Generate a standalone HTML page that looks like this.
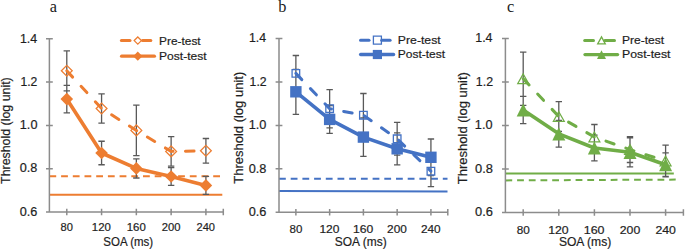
<!DOCTYPE html>
<html><head><meta charset="utf-8"><style>
html,body{margin:0;padding:0;background:#fff;}
body{width:685px;height:250px;overflow:hidden;}
svg{display:block;}
.t{font-family:"Liberation Sans",sans-serif;fill:#1e1e1e;stroke:#1e1e1e;stroke-width:0.2px;}
.t2{font-family:"Liberation Sans",sans-serif;font-size:12px;fill:#1e1e1e;}
.lab{font-family:"Liberation Serif",serif;fill:#1a1a1a;}
</style></head><body>
<svg width="685" height="250" viewBox="0 0 685 250">
<rect width="685" height="250" fill="#fff"/>
<g><line x1="49.4" y1="194.8" x2="222.3" y2="194.8" stroke="#ED7D31" stroke-width="2"/>
<line x1="49.4" y1="176.2" x2="222.3" y2="176.2" stroke="#ED7D31" stroke-width="2" stroke-dasharray="6.8 4.9"/>
<path d="M49.4 38.8V212M46 212H223.3M46 38.8H52.8M46 82.1H52.8M46 125.4H52.8M46 168.7H52.8M46 212H52.8M223.3 208.8V215.2M66.79 208.8V215.2M101.57 208.8V215.2M136.35 208.8V215.2M171.13 208.8V215.2M205.91 208.8V215.2" stroke="#8c8c8c" stroke-width="1.5" fill="none"/>
<path d="M66.79 50.8V90.8M63.59 50.8H69.99M63.59 90.8H69.99M101.57 93.8V123.2M98.37 93.8H104.77M98.37 123.2H104.77M136.35 105.2V155.6M133.15 105.2H139.55M133.15 155.6H139.55M171.13 136.6V166.2M167.93 136.6H174.33M167.93 166.2H174.33M205.91 138.5V163.1M202.71 138.5H209.11M202.71 163.1H209.11M66.79 85.4V112.8M63.59 85.4H69.99M63.59 112.8H69.99M101.57 141.25V164.75M98.37 141.25H104.77M98.37 164.75H104.77M136.35 158.8V178M133.15 158.8H139.55M133.15 178H139.55M171.13 167.7V185.3M167.93 167.7H174.33M167.93 185.3H174.33M205.91 176.4V194.4M202.71 176.4H209.11M202.71 194.4H209.11" stroke="#595959" stroke-width="1.3" fill="none"/>
<polyline points="66.79,99.1 101.57,153 136.35,168.4 171.13,176.5 205.91,185.4" fill="none" stroke="#ED7D31" stroke-width="3.6" stroke-linejoin="round"/>
<polyline points="66.79,70.8 101.57,108.5 136.35,130.4 171.13,151.4 205.91,150.8" fill="none" stroke="#ED7D31" stroke-width="3" stroke-dasharray="8.6 12.45" stroke-linecap="round" stroke-linejoin="round"/>
<path d="M66.79 92.8L73.09 99.1L66.79 105.4L60.49 99.1Z" fill="#ED7D31"/>
<path d="M101.57 146.7L107.87 153L101.57 159.3L95.27 153Z" fill="#ED7D31"/>
<path d="M136.35 162.1L142.65 168.4L136.35 174.7L130.05 168.4Z" fill="#ED7D31"/>
<path d="M171.13 170.2L177.43 176.5L171.13 182.8L164.83 176.5Z" fill="#ED7D31"/>
<path d="M205.91 179.1L212.21 185.4L205.91 191.7L199.61 185.4Z" fill="#ED7D31"/>
<path d="M66.79 65.4L72.19 70.8L66.79 76.2L61.39 70.8Z" fill="none" stroke="#ED7D31" stroke-width="1.3"/>
<path d="M101.57 103.1L106.97 108.5L101.57 113.9L96.17 108.5Z" fill="none" stroke="#ED7D31" stroke-width="1.3"/>
<path d="M136.35 125L141.75 130.4L136.35 135.8L130.95 130.4Z" fill="none" stroke="#ED7D31" stroke-width="1.3"/>
<path d="M171.13 146L176.53 151.4L171.13 156.8L165.73 151.4Z" fill="none" stroke="#ED7D31" stroke-width="1.3"/>
<path d="M205.91 145.4L211.31 150.8L205.91 156.2L200.51 150.8Z" fill="none" stroke="#ED7D31" stroke-width="1.3"/>
<path d="M137.8 37L141.4 40.6L137.8 44.2L134.2 40.6Z" fill="#fff" stroke="#ED7D31" stroke-width="1.3"/>
<line x1="121.4" y1="40.6" x2="130" y2="40.6" stroke="#ED7D31" stroke-width="3" stroke-linecap="round"/>
<line x1="142.5" y1="40.6" x2="150.8" y2="40.6" stroke="#ED7D31" stroke-width="3" stroke-linecap="round"/>
<line x1="121.6" y1="56.2" x2="154.4" y2="56.2" stroke="#ED7D31" stroke-width="3.3" stroke-linecap="round"/>
<path d="M137.8 51.6L142.4 56.2L137.8 60.8L133.2 56.2Z" fill="#ED7D31"/></g>
<g><line x1="279" y1="191.1" x2="447.5" y2="191.6" stroke="#4472C4" stroke-width="2"/>
<line x1="279" y1="178.7" x2="447.5" y2="178.7" stroke="#4472C4" stroke-width="2" stroke-dasharray="6.8 4.9"/>
<path d="M279 38.45V212.3M275.6 212.3H447.8M275.6 38.45H282.4M275.6 81.91H282.4M275.6 125.38H282.4M275.6 168.84H282.4M275.6 212.3H282.4M447.8 209.1V215.5M295.88 209.1V215.5M329.64 209.1V215.5M363.4 209.1V215.5M397.16 209.1V215.5M430.92 209.1V215.5" stroke="#8c8c8c" stroke-width="1.5" fill="none"/>
<path d="M295.88 55.5V91.3M292.68 55.5H299.08M292.68 91.3H299.08M329.64 89.6V127.8M326.44 89.6H332.84M326.44 127.8H332.84M363.4 93.5V136.9M360.2 93.5H366.6M360.2 136.9H366.6M397.16 122.4V155.2M393.96 122.4H400.36M393.96 155.2H400.36M430.92 155.8V186.6M427.72 155.8H434.12M427.72 186.6H434.12M295.88 69.3V114.3M292.68 69.3H299.08M292.68 114.3H299.08M329.64 105.5V133.3M326.44 105.5H332.84M326.44 133.3H332.84M363.4 117.8V156.4M360.2 117.8H366.6M360.2 156.4H366.6M397.16 132.8V164.8M393.96 132.8H400.36M393.96 164.8H400.36M430.92 139V175.6M427.72 139H434.12M427.72 175.6H434.12" stroke="#595959" stroke-width="1.3" fill="none"/>
<polyline points="295.88,91.8 329.64,119.4 363.4,137.1 397.16,148.8 430.92,157.3" fill="none" stroke="#4472C4" stroke-width="3.6" stroke-linejoin="round"/>
<polyline points="295.88,73.4 329.64,108.7 363.4,115.2 397.16,138.8 430.92,171.2" fill="none" stroke="#4472C4" stroke-width="3" stroke-dasharray="8.6 12.45" stroke-linecap="round" stroke-linejoin="round"/>
<path d="M290.18 86.1H301.58V97.5H290.18Z" fill="#4472C4"/>
<path d="M323.94 113.7H335.34V125.1H323.94Z" fill="#4472C4"/>
<path d="M357.7 131.4H369.1V142.8H357.7Z" fill="#4472C4"/>
<path d="M391.46 143.1H402.86V154.5H391.46Z" fill="#4472C4"/>
<path d="M425.22 151.6H436.62V163H425.22Z" fill="#4472C4"/>
<path d="M292.08 69.6H299.68V77.2H292.08Z" fill="none" stroke="#4472C4" stroke-width="1.3"/>
<path d="M325.84 104.9H333.44V112.5H325.84Z" fill="none" stroke="#4472C4" stroke-width="1.3"/>
<path d="M359.6 111.4H367.2V119H359.6Z" fill="none" stroke="#4472C4" stroke-width="1.3"/>
<path d="M393.36 135H400.96V142.6H393.36Z" fill="none" stroke="#4472C4" stroke-width="1.3"/>
<path d="M427.12 167.4H434.72V175H427.12Z" fill="none" stroke="#4472C4" stroke-width="1.3"/>
<path d="M373.4 36.2H381.4V44.2H373.4Z" fill="#fff" stroke="#4472C4" stroke-width="1.3"/>
<line x1="360.5" y1="40.2" x2="369" y2="40.2" stroke="#4472C4" stroke-width="3" stroke-linecap="round"/>
<line x1="381.7" y1="40.2" x2="390.1" y2="40.2" stroke="#4472C4" stroke-width="3" stroke-linecap="round"/>
<line x1="360.6" y1="54.5" x2="393.6" y2="54.5" stroke="#4472C4" stroke-width="3.3" stroke-linecap="round"/>
<path d="M372.8 49.9H382V59.1H372.8Z" fill="#4472C4"/></g>
<g><line x1="505.4" y1="173.6" x2="673.8" y2="173.6" stroke="#70AD47" stroke-width="2"/>
<line x1="505.4" y1="180.4" x2="675.7" y2="179.6" stroke="#70AD47" stroke-width="2" stroke-dasharray="6.8 4.9"/>
<path d="M505.4 38.5V212.5M502 212.5H683.4M502 38.5H508.8M502 82H508.8M502 125.5H508.8M502 169H508.8M502 212.5H508.8M683.4 209.3V215.7M523.2 209.3V215.7M558.8 209.3V215.7M594.4 209.3V215.7M630 209.3V215.7M665.6 209.3V215.7" stroke="#8c8c8c" stroke-width="1.5" fill="none"/>
<path d="M523.2 52.15V105.35M520 52.15H526.4M520 105.35H526.4M558.8 101.7V131.3M555.6 101.7H562M555.6 131.3H562M594.4 124.5V149.5M591.2 124.5H597.6M591.2 149.5H597.6M630 136.7V162.5M626.8 136.7H633.2M626.8 162.5H633.2M665.6 145.2V176.8M662.4 145.2H668.8M662.4 176.8H668.8M523.2 96.3V123.7M520 96.3H526.4M520 123.7H526.4M558.8 120.5V147.1M555.6 120.5H562M555.6 147.1H562M594.4 135.2V160.8M591.2 135.2H597.6M591.2 160.8H597.6M630 137.8V166.8M626.8 137.8H633.2M626.8 166.8H633.2M665.6 152.9V176.5M662.4 152.9H668.8M662.4 176.5H668.8" stroke="#595959" stroke-width="1.3" fill="none"/>
<polyline points="523.2,110 558.8,133.8 594.4,148 630,152.3 665.6,164.7" fill="none" stroke="#70AD47" stroke-width="3.6" stroke-linejoin="round"/>
<polyline points="523.2,78.75 558.8,116.5 594.4,137 630,149.6 665.6,161" fill="none" stroke="#70AD47" stroke-width="3" stroke-dasharray="8.6 12.45" stroke-linecap="round" stroke-linejoin="round"/>
<path d="M523.2 103.4L529.7 116.6L516.7 116.6Z" fill="#70AD47"/>
<path d="M558.8 127.2L565.3 140.4L552.3 140.4Z" fill="#70AD47"/>
<path d="M594.4 141.4L600.9 154.6L587.9 154.6Z" fill="#70AD47"/>
<path d="M630 145.7L636.5 158.9L623.5 158.9Z" fill="#70AD47"/>
<path d="M665.6 158.1L672.1 171.3L659.1 171.3Z" fill="#70AD47"/>
<path d="M523.2 73.95L528.6 83.55L517.8 83.55Z" fill="none" stroke="#70AD47" stroke-width="1.3"/>
<path d="M558.8 111.7L564.2 121.3L553.4 121.3Z" fill="none" stroke="#70AD47" stroke-width="1.3"/>
<path d="M594.4 132.2L599.8 141.8L589 141.8Z" fill="none" stroke="#70AD47" stroke-width="1.3"/>
<path d="M630 144.8L635.4 154.4L624.6 154.4Z" fill="none" stroke="#70AD47" stroke-width="1.3"/>
<path d="M665.6 156.2L671 165.8L660.2 165.8Z" fill="none" stroke="#70AD47" stroke-width="1.3"/>
<path d="M601.5 36.9L605.3 43.9L597.7 43.9Z" fill="#fff" stroke="#70AD47" stroke-width="1.3"/>
<line x1="584.7" y1="40.4" x2="593.5" y2="40.4" stroke="#70AD47" stroke-width="3" stroke-linecap="round"/>
<line x1="604.9" y1="40.4" x2="614.5" y2="40.4" stroke="#70AD47" stroke-width="3" stroke-linecap="round"/>
<line x1="585" y1="54.6" x2="617.6" y2="54.6" stroke="#70AD47" stroke-width="3.3" stroke-linecap="round"/>
<path d="M601.5 50.2L606 59L597 59Z" fill="#70AD47"/></g>
<g><text class="lab" x="49.7" y="11.93" font-size="16.3">a</text>
<text class="lab" x="278.27" y="12.25" font-size="16.3">b</text>
<text class="lab" x="506.93" y="12.35" font-size="16.3">c</text>
<text class="t" x="19.95" y="42.57" font-size="11.93" textLength="17.23" lengthAdjust="spacingAndGlyphs">1.4</text>
<text class="t" x="20.45" y="85.9" font-size="11.93" textLength="16.91" lengthAdjust="spacingAndGlyphs">1.2</text>
<text class="t" x="19.82" y="129.22" font-size="11.93" textLength="17.62" lengthAdjust="spacingAndGlyphs">1.0</text>
<text class="t" x="19.82" y="172.42" font-size="11.93" textLength="17.59" lengthAdjust="spacingAndGlyphs">0.8</text>
<text class="t" x="19.82" y="215.62" font-size="11.93" textLength="17.59" lengthAdjust="spacingAndGlyphs">0.6</text>
<text class="t" x="60.61" y="230.9" font-size="10.83" textLength="12.37" lengthAdjust="spacingAndGlyphs">80</text>
<text class="t" x="91.88" y="230.9" font-size="10.83" textLength="19.03" lengthAdjust="spacingAndGlyphs">120</text>
<text class="t" x="126.75" y="230.9" font-size="10.83" textLength="19.04" lengthAdjust="spacingAndGlyphs">160</text>
<text class="t" x="161.74" y="230.9" font-size="10.83" textLength="18.76" lengthAdjust="spacingAndGlyphs">200</text>
<text class="t" x="196.49" y="230.9" font-size="10.83" textLength="18.5" lengthAdjust="spacingAndGlyphs">240</text>
<text class="t" x="103.37" y="246.07" font-size="12.05" textLength="49.83" lengthAdjust="spacingAndGlyphs">SOA (ms)</text>
<text class="t" transform="translate(10.3 183.88) rotate(-90)" font-size="12.59" textLength="106.58" lengthAdjust="spacingAndGlyphs">Threshold (log unit)</text>
<text class="t" x="159.08" y="44.5" font-size="11.29" textLength="41.53" lengthAdjust="spacingAndGlyphs">Pre-test</text>
<text class="t" x="159.08" y="59.7" font-size="11.29" textLength="47.57" lengthAdjust="spacingAndGlyphs">Post-test</text>
<text class="t" x="248.95" y="42.3" font-size="12.21" textLength="17.08" lengthAdjust="spacingAndGlyphs">1.4</text>
<text class="t" x="249.58" y="85.9" font-size="12.21" textLength="17.03" lengthAdjust="spacingAndGlyphs">1.2</text>
<text class="t" x="248.7" y="129.13" font-size="12.21" textLength="17.72" lengthAdjust="spacingAndGlyphs">1.0</text>
<text class="t" x="248.7" y="172.73" font-size="12.21" textLength="17.7" lengthAdjust="spacingAndGlyphs">0.8</text>
<text class="t" x="248.7" y="216.07" font-size="12.21" textLength="17.7" lengthAdjust="spacingAndGlyphs">0.6</text>
<text class="t" x="289.52" y="233.25" font-size="11.52" textLength="12.81" lengthAdjust="spacingAndGlyphs">80</text>
<text class="t" x="319.43" y="233.25" font-size="11.52" textLength="20.03" lengthAdjust="spacingAndGlyphs">120</text>
<text class="t" x="353.1" y="233.25" font-size="11.52" textLength="20.29" lengthAdjust="spacingAndGlyphs">160</text>
<text class="t" x="387.14" y="233.25" font-size="11.52" textLength="19.75" lengthAdjust="spacingAndGlyphs">200</text>
<text class="t" x="420.93" y="233.25" font-size="11.52" textLength="19.75" lengthAdjust="spacingAndGlyphs">240</text>
<text class="t" x="334.87" y="245.7" font-size="12.05" textLength="51.78" lengthAdjust="spacingAndGlyphs">SOA (ms)</text>
<text class="t" transform="translate(243.25 183.75) rotate(-90)" font-size="12.59" textLength="111.97" lengthAdjust="spacingAndGlyphs">Threshold (log unit)</text>
<text class="t" x="397.88" y="43.9" font-size="11.29" textLength="42.76" lengthAdjust="spacingAndGlyphs">Pre-test</text>
<text class="t" x="397.7" y="57.75" font-size="11.29" textLength="47.42" lengthAdjust="spacingAndGlyphs">Post-test</text>
<text class="t" x="475.25" y="42.45" font-size="12.34" textLength="17.27" lengthAdjust="spacingAndGlyphs">1.4</text>
<text class="t" x="475.87" y="86.07" font-size="12.34" textLength="17.22" lengthAdjust="spacingAndGlyphs">1.2</text>
<text class="t" x="474.88" y="129.45" font-size="12.34" textLength="17.65" lengthAdjust="spacingAndGlyphs">1.0</text>
<text class="t" x="475" y="172.95" font-size="12.34" textLength="17.9" lengthAdjust="spacingAndGlyphs">0.8</text>
<text class="t" x="475" y="216.45" font-size="12.34" textLength="17.9" lengthAdjust="spacingAndGlyphs">0.6</text>
<text class="t" x="516.7" y="233.55" font-size="11.66" textLength="13.08" lengthAdjust="spacingAndGlyphs">80</text>
<text class="t" x="548.2" y="233.55" font-size="11.66" textLength="20.5" lengthAdjust="spacingAndGlyphs">120</text>
<text class="t" x="583.72" y="233.55" font-size="11.66" textLength="20.78" lengthAdjust="spacingAndGlyphs">160</text>
<text class="t" x="619.75" y="233.55" font-size="11.66" textLength="20.5" lengthAdjust="spacingAndGlyphs">200</text>
<text class="t" x="655.4" y="233.55" font-size="11.66" textLength="20.49" lengthAdjust="spacingAndGlyphs">240</text>
<text class="t" x="558.88" y="246.22" font-size="12.05" textLength="52.39" lengthAdjust="spacingAndGlyphs">SOA (ms)</text>
<text class="t" transform="translate(467.3 184.2) rotate(-90)" font-size="12.59" textLength="112.07" lengthAdjust="spacingAndGlyphs">Threshold (log unit)</text>
<text class="t" x="621.9" y="43.9" font-size="11.29" textLength="42.19" lengthAdjust="spacingAndGlyphs">Pre-test</text>
<text class="t" x="622.02" y="57.75" font-size="11.29" textLength="48.49" lengthAdjust="spacingAndGlyphs">Post-test</text></g>
</svg>
</body></html>
